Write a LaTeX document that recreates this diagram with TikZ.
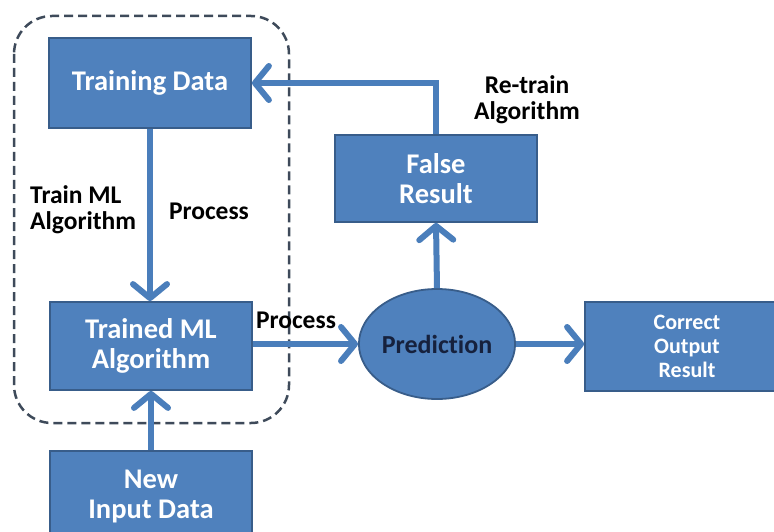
\documentclass[tikz,border=0pt]{standalone}
\usepackage{fontspec}
\setmainfont{Carlito}[RawFeature={-liga,-dlig,-clig}]
\usetikzlibrary{arrows.meta,shapes.geometric}
\definecolor{boxblue}{HTML}{4F81BD}
\definecolor{boxedge}{HTML}{385D8A}
\definecolor{arrowblue}{HTML}{4A7EBB}
\definecolor{dashgray}{HTML}{3E4A5A}
\definecolor{navytext}{HTML}{16213D}
\tikzset{
  bluebox/.style={draw=boxedge, line width=1.8pt, fill=boxblue, text=white,
    font=\fontsize{28.5}{30}\selectfont\bfseries, align=center,
    minimum width=202pt, inner sep=0pt},
  flowarrow/.style={draw=arrowblue, line width=6pt,
    -{Straight Barb[length=14pt,width=34pt,round]}},
  lbl/.style={text=black, font=\fontsize{25.5}{26}\selectfont\bfseries, inner sep=0pt}
}
\begin{document}
\begin{tikzpicture}[x=1pt,y=-1pt]
\useasboundingbox (0,0) rectangle (774,532);
\fill[white] (0,0) rectangle (774,532);
% dashed group
\draw[dashgray, line width=2.5pt, dash pattern=on 9pt off 5pt, rounded corners=38pt]
  (14,16) rectangle (289,423);
% nodes
\node[bluebox, minimum height=90pt] (td) at (150,83) {Training Data};
\node[bluebox, minimum height=88pt] (tml) at (151,346) {Trained ML\\Algorithm};
\node[bluebox, minimum height=90pt] (nid) at (151,496) {New\\Input Data};
\node[bluebox, minimum height=87pt] (fr) at (436,178.5) {False\\Result};
\node[ellipse, draw=boxedge, line width=1.8pt, fill=boxblue, minimum width=152pt,
  minimum height=110pt, inner sep=0pt, text=navytext,
  font=\fontsize{26}{28}\selectfont\bfseries] (pred) at (437,344) {Prediction};
\node[bluebox, minimum width=204pt, minimum height=89pt,
  font=\fontsize{22}{24}\selectfont\bfseries] (cor) at (687,346.5) {Correct\\Output\\Result};
% connectors
\draw[flowarrow] (td.south) -- (td.south |- tml.north);
\draw[flowarrow] (nid.north) -- (tml.south);
\draw[flowarrow] (tml.east |- pred.west) -- (pred.west);
\draw[flowarrow] (pred.north) -- (fr.south);
\draw[flowarrow] (fr.north) |- (td.east);
\draw[flowarrow] (pred.east) -- (pred.east -| cor.west);
% labels
\node[lbl, align=center] (retrain) at (527,100) {Re-train\\Algorithm};
\node[lbl, align=left, anchor=west] (trainml) at (30,210) {Train ML\\Algorithm};
\node[lbl] (proc1) at (209,211) {Process};
\node[lbl] (proc2) at (296,320) {Process};
\end{tikzpicture}
\end{document}
